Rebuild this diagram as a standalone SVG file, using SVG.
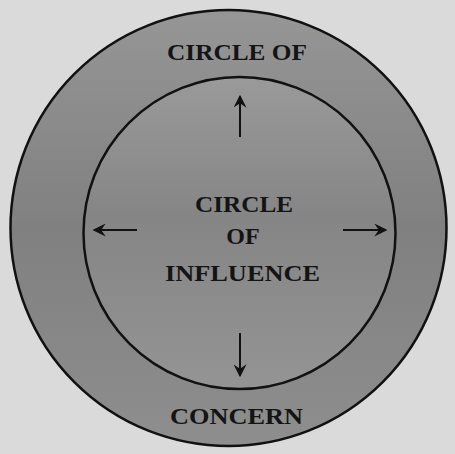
<svg xmlns="http://www.w3.org/2000/svg" width="455" height="454" viewBox="0 0 455 454">
  <defs>
    <linearGradient id="ringFill" x1="0" y1="0" x2="0" y2="1">
      <stop offset="0" stop-color="#969696"/>
      <stop offset="0.5" stop-color="#808080"/>
      <stop offset="1" stop-color="#8e8e8e"/>
    </linearGradient>
    <linearGradient id="innerFill" x1="0" y1="0" x2="0" y2="1">
      <stop offset="0" stop-color="#9a9a9a"/>
      <stop offset="0.45" stop-color="#858585"/>
      <stop offset="1" stop-color="#949494"/>
    </linearGradient>
    <marker id="arrow" viewBox="0 0 10 10" refX="9" refY="5" markerWidth="13" markerHeight="13" markerUnits="userSpaceOnUse" orient="auto">
      <path d="M0,0 L10,5 L0,10 L3.5,5 z" fill="#111"/>
    </marker>
    <style>
      .lbl { font-family: "Liberation Serif", "Times New Roman", serif; font-weight: bold; fill: #141414; text-anchor: middle; }
      .circ { stroke: #111; stroke-width: 2.5; }
      .arr { stroke: #111; stroke-width: 2; fill: none; marker-end: url(#arrow); }
    </style>
  </defs>
  <rect width="455" height="454" fill="#dadada"/>
  <g id="concern">
    <circle class="circ" cx="228.5" cy="228" r="218" fill="url(#ringFill)"/>
    <text class="lbl" x="237" y="60" font-size="24" textLength="140" lengthAdjust="spacingAndGlyphs">CIRCLE OF</text>
    <text class="lbl" x="236.5" y="424" font-size="24" textLength="133" lengthAdjust="spacingAndGlyphs">CONCERN</text>
  </g>
  <g id="influence">
    <circle class="circ" cx="239.5" cy="233" r="156" fill="url(#innerFill)"/>
    <text class="lbl" x="244" y="212" font-size="24" textLength="98" lengthAdjust="spacingAndGlyphs">CIRCLE</text>
    <text class="lbl" x="243" y="244" font-size="24">OF</text>
    <text class="lbl" x="242.5" y="281" font-size="24" textLength="155" lengthAdjust="spacingAndGlyphs">INFLUENCE</text>
  </g>
  <g id="connectors">
    <line class="arr" x1="240" y1="137" x2="240" y2="96"/>
    <line class="arr" x1="240" y1="333" x2="240" y2="376"/>
    <line class="arr" x1="137" y1="230" x2="94" y2="230"/>
    <line class="arr" x1="343" y1="230" x2="386" y2="230"/>
  </g>
</svg>
